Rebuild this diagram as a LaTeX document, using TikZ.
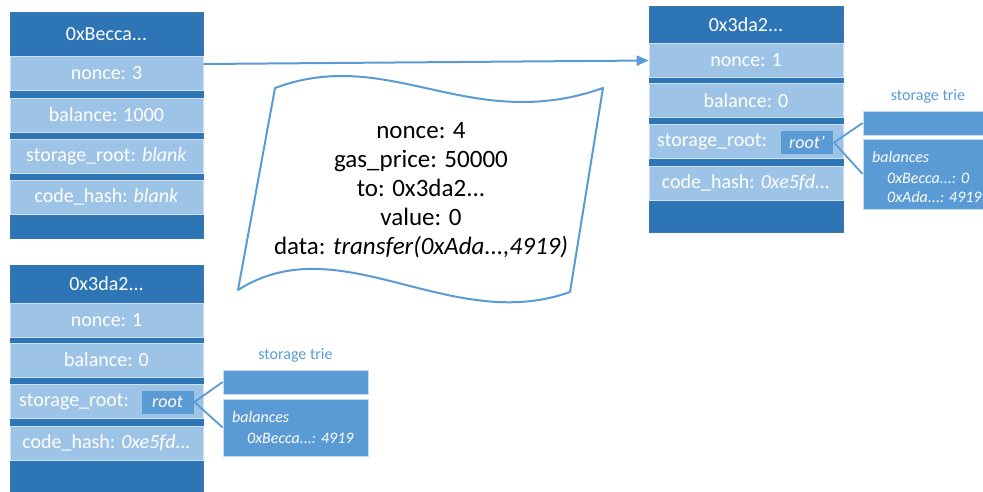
\documentclass[tikz,border=0pt]{standalone}
\usepackage{fontspec}
\setmainfont{Carlito}
\usetikzlibrary{arrows.meta}
\definecolor{hdr}{HTML}{2E75B6}
\definecolor{rowc}{HTML}{9DC3E6}
\definecolor{mid}{HTML}{5B9BD5}
\begin{document}
\begin{tikzpicture}[x=1pt,y=-1pt,
  acct/.style={fill=hdr, draw=hdr!80!gray, line width=0.6pt, inner sep=0, minimum width=193pt},
  hd/.style={text=white, inner sep=0, font=\fontsize{20}{24}\selectfont},
  row/.style={fill=rowc, draw=rowc!50!white, line width=0.6pt, minimum width=193pt,
    minimum height=34pt, inner sep=0, text=white, font=\fontsize{20}{24}\selectfont},
  rowlabel/.style={anchor=west, inner sep=0, text=white, font=\fontsize{20}{24}\selectfont},
  rootbox/.style={fill=mid, draw=rowc, line width=0.8pt, minimum width=53pt,
    minimum height=24pt, inner sep=0, text=white, font=\fontsize{18}{20}\selectfont\itshape},
  trie/.style={fill=mid, draw=rowc!60!white, line width=0.8pt, minimum width=145pt, inner sep=0},
  lbl/.style={text=mid, inner sep=0, font=\fontsize{16}{18}\selectfont},
  trtxt/.style={text=white, anchor=west, inner sep=0, font=\fontsize{16}{18}\selectfont\itshape},
  link/.style={draw=mid, line width=1.8pt},
  transfer/.style={draw=mid, line width=2pt, -{Triangle[length=12pt,width=10pt]}},
  paper/.style={draw=mid, line width=2pt, line join=round},
  txt/.style={align=center, inner sep=0, font=\fontsize{25}{29}\selectfont}
]
\useasboundingbox (0,0) rectangle (983,491);
\clip (0,0) rectangle (983,491);

% ---- sender account ----
\node[acct, minimum height=226pt] (accA) at (106.5,125) {};
\node[hd] (hA) at (106.5,34) {0xBecca...};
\node[row] (nA) at (106.5,73) {nonce: 3};
\node[row] (bA) at (106.5,115) {balance: 1000};
\node[row] (sA) at (106.5,156) {storage\_root: \textit{blank}};
\node[row] (cA) at (106.5,197) {code\_hash: \textit{blank}};

% ---- contract account, before ----
\node[acct, minimum height=230pt] (accC) at (106.5,380) {};
\node[hd] (hC) at (106.5,284) {0x3da2...};
\node[row] (nC) at (106.5,320) {nonce: 1};
\node[row] (bC) at (106.5,360) {balance: 0};
\node[row] (sC) at (106.5,401.5) {};
\node[rowlabel] (slC) at (19,401.5) {storage\_root:};
\node[row] (cC) at (106.5,443) {code\_hash: \textit{0xe5fd...}};
\node[rootbox] (rC) at (167.5,402) {root};

\node[lbl] (tlC) at (295.5,355) {storage trie};
\node[trie, minimum height=24pt] (t1C) at (295.5,382) {};
\node[trie, minimum height=57pt] (t2C) at (295.5,427.5) {};
\node[trtxt] (balC) at (232,417) {balances};
\node[trtxt] (e1C) at (247,438) {0xBecca...: 4919};
\draw[link] (rC.east) -- (t1C.west);
\draw[link] (rC.east) -- (t2C.west);

% ---- contract account, after ----
\node[acct, minimum width=194pt, minimum height=226pt] (accB) at (746,119) {};
\node[hd] (hB) at (746,25) {0x3da2...};
\node[row, minimum width=194pt] (nB) at (746,60.5) {nonce: 1};
\node[row, minimum width=194pt] (bB) at (746,100.5) {balance: 0};
\node[row, minimum width=194pt] (sB) at (746,141.5) {};
\node[rowlabel] (slB) at (657,141.5) {storage\_root:};
\node[row, minimum width=194pt] (cB) at (746,183) {code\_hash: \textit{0xe5fd...}};
\node[rootbox] (rB) at (807,142.5) {root’};

\node[lbl] (tlB) at (928,96) {storage trie};
\node[trie, minimum height=24pt] (t1B) at (935.5,123) {};
\node[trie, minimum height=70pt] (t2B) at (935.5,174) {};
\node[trtxt] (balB) at (872,157) {balances};
\node[trtxt] (e1B) at (887,178) {0xBecca...: 0};
\node[trtxt] (e2B) at (887,197) {0xAda...: 4919};
\draw[link] (rB.east) -- (t1B.west);
\draw[link] (rB.east) -- (t2B.west);

% ---- transaction ----
\coordinate (src) at ([yshift=9pt]nA.east);
\draw[transfer] (src) -- (nB.west);

\draw[paper] (275,88) .. controls (390,45) and (470,135) .. (603,88)
  -- (570,292) .. controls (450,335) and (340,225) .. (238,290) -- cycle;
\node[txt] (tx) at (421,190) {nonce: 4\\gas\_price: 50000\\to: 0x3da2...\\value: 0\\data: \textit{transfer(0xAda...,4919)}};
\end{tikzpicture}
\end{document}
